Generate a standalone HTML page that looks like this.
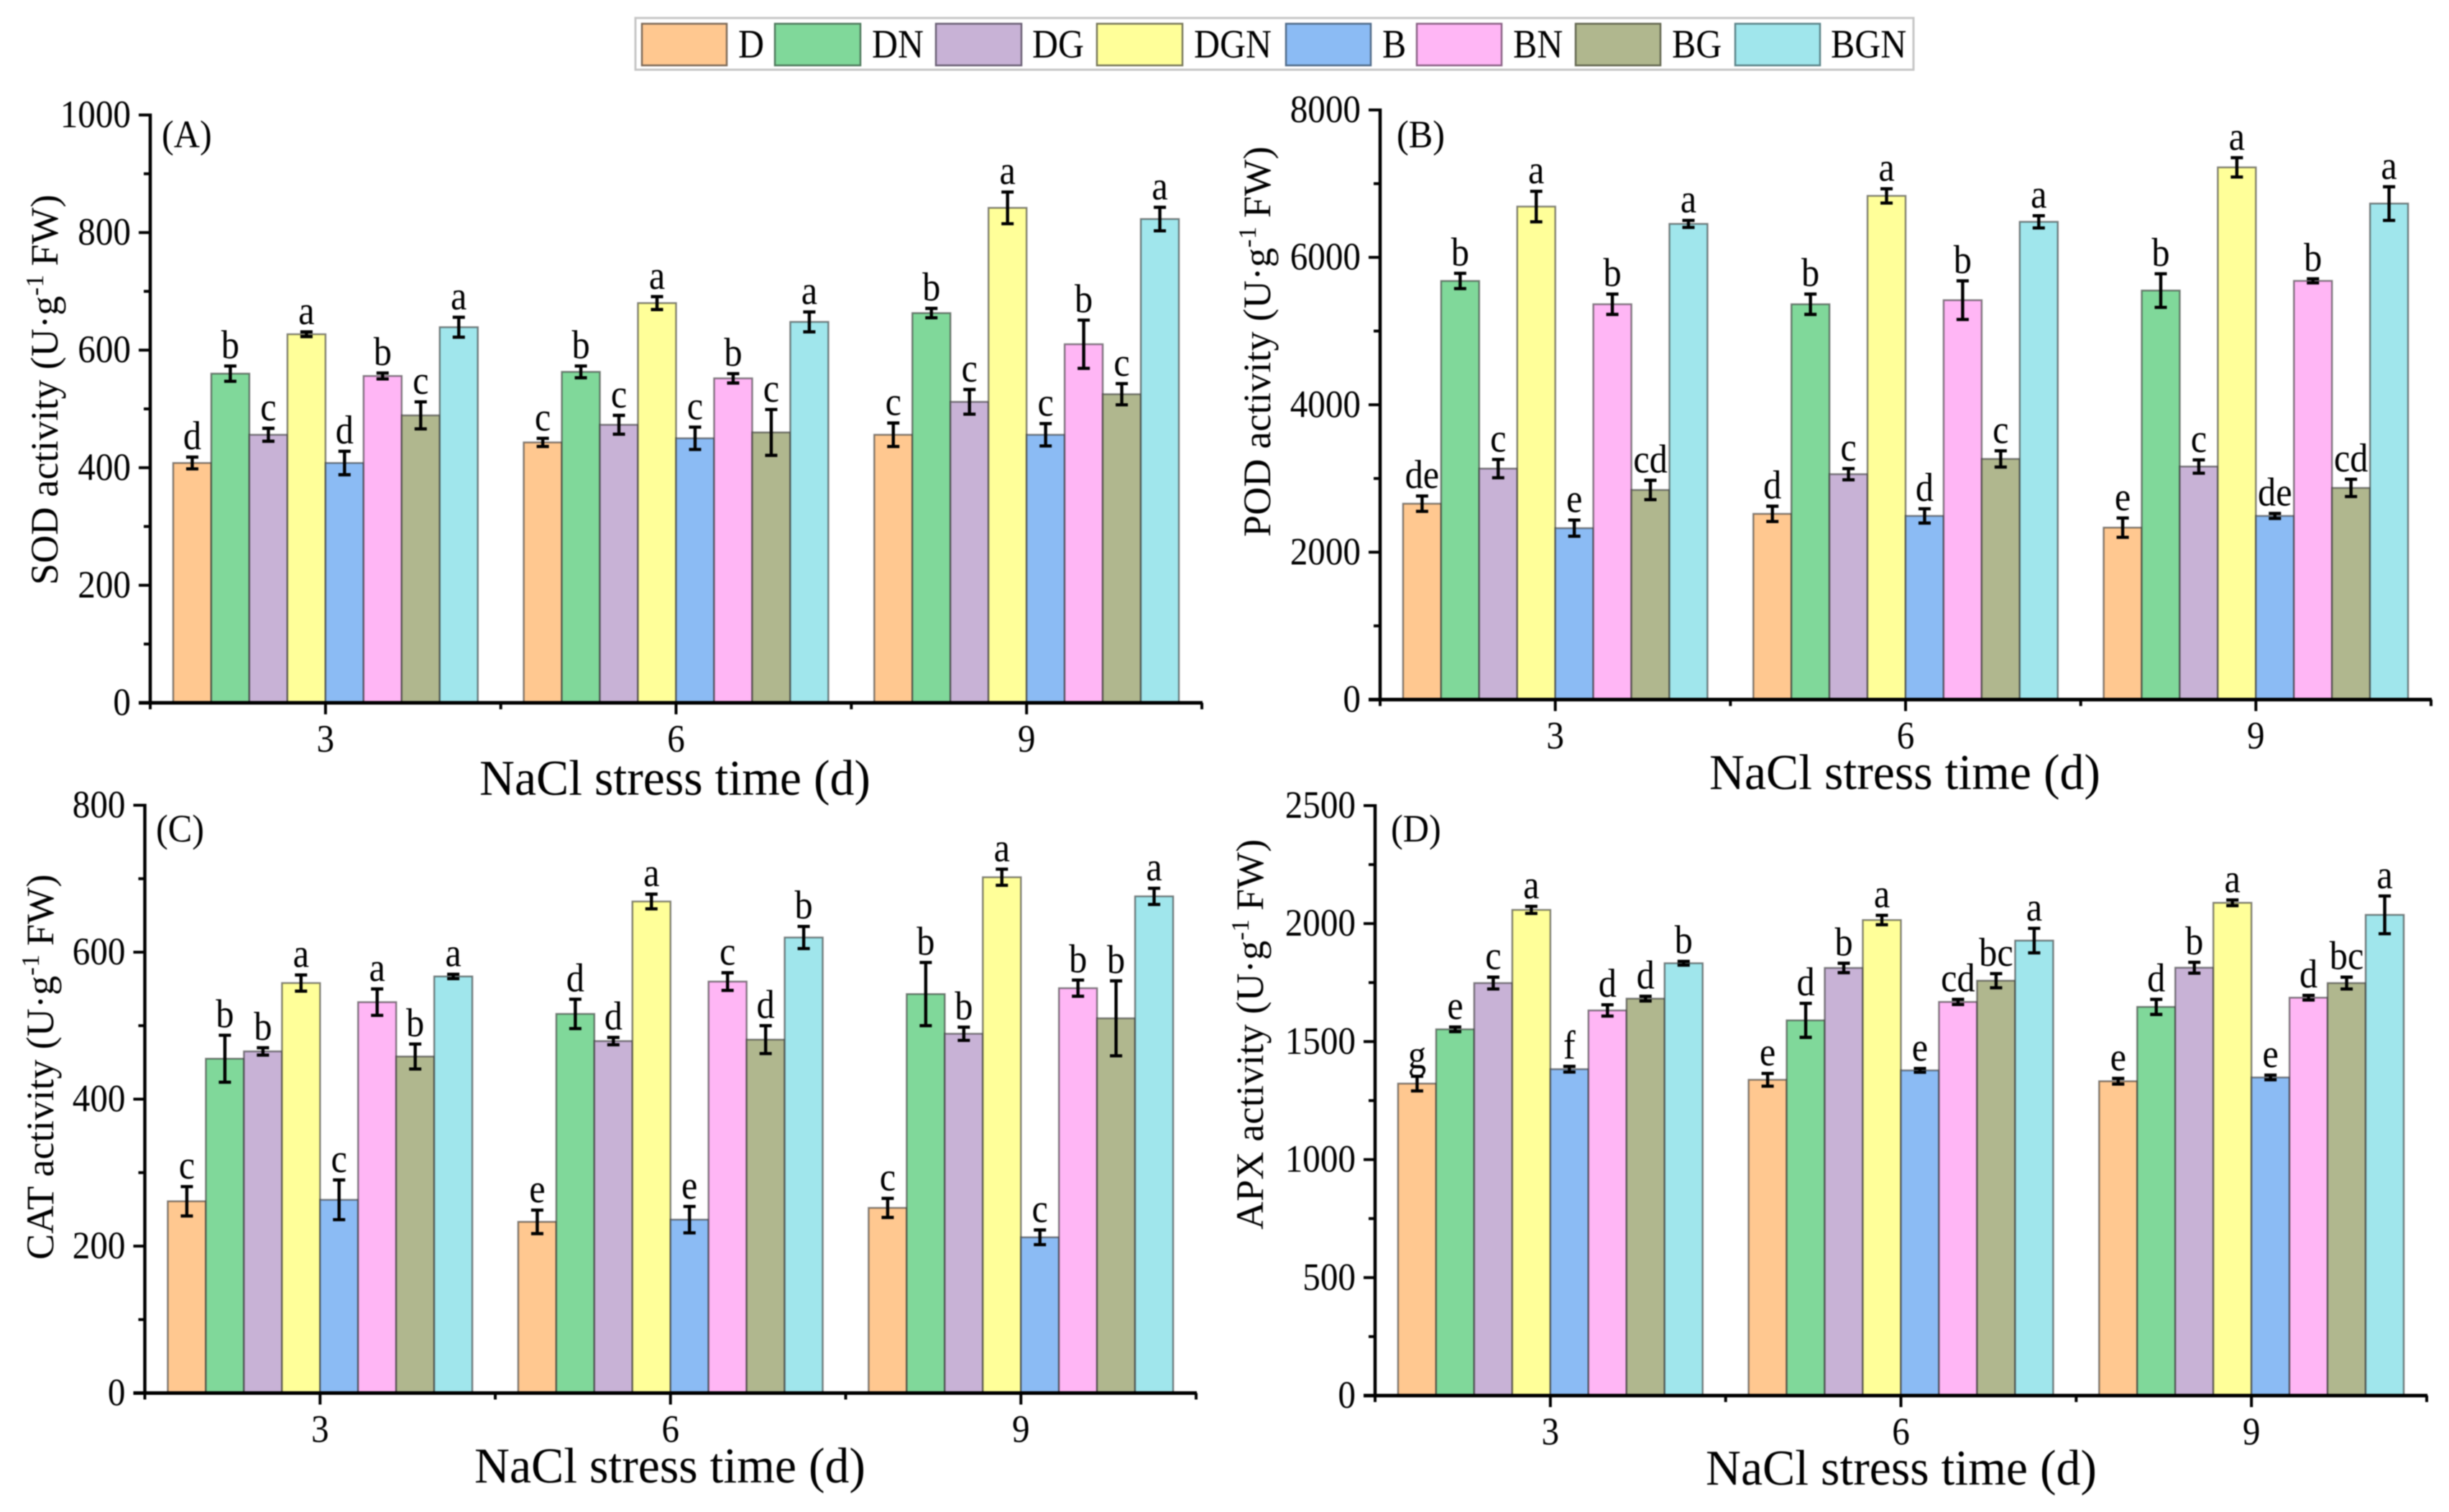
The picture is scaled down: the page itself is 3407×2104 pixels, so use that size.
<!DOCTYPE html>
<html lang="en">
<head>
<meta charset="utf-8">
<title>Antioxidant enzyme activity under NaCl stress</title>
<style>
html,body{margin:0;padding:0;background:#fff;width:3407px;height:2104px;overflow:hidden}
svg{display:block;filter:blur(.9px)}
text{font-family:"Liberation Serif",serif;fill:#000}
</style>
</head>
<body>
<svg id="figure" xmlns="http://www.w3.org/2000/svg" width="3407" height="2104" viewBox="0 0 3407 2104">
<g>
<rect x="884" y="25" width="1778" height="72" fill="#fff" stroke="#c6c6c6" stroke-width="3"/>
<g><rect x="893" y="33" width="118" height="58" fill="#FFC890" stroke="#7d6a58" stroke-width="2.5"/><text class="legend-text" x="1027" y="80" font-size="56">D</text></g>
<g><rect x="1078" y="33" width="119" height="58" fill="#80D89A" stroke="#4f7a5d" stroke-width="2.5"/><text class="legend-text" x="1213" y="80" font-size="56">DN</text></g>
<g><rect x="1302" y="33" width="119" height="58" fill="#C8B2D6" stroke="#6b6075" stroke-width="2.5"/><text class="legend-text" x="1436" y="80" font-size="56">DG</text></g>
<g><rect x="1526" y="33" width="119" height="58" fill="#FFFF99" stroke="#77775a" stroke-width="2.5"/><text class="legend-text" x="1661" y="80" font-size="56">DGN</text></g>
<g><rect x="1789" y="33" width="118" height="58" fill="#8BBBF4" stroke="#4f6a88" stroke-width="2.5"/><text class="legend-text" x="1923" y="80" font-size="56">B</text></g>
<g><rect x="1971" y="33" width="118" height="58" fill="#FFB6F5" stroke="#8a6285" stroke-width="2.5"/><text class="legend-text" x="2105" y="80" font-size="56">BN</text></g>
<g><rect x="2192" y="33" width="118" height="58" fill="#B0B78E" stroke="#636750" stroke-width="2.5"/><text class="legend-text" x="2326" y="80" font-size="56">BG</text></g>
<g><rect x="2414" y="33" width="118" height="58" fill="#A0E6EC" stroke="#5a8388" stroke-width="2.5"/><text class="legend-text" x="2547" y="80" font-size="56">BGN</text></g>
</g>
</svg>
<script>
// ---- Shared chart data ----
const categories = ["3", "6", "9"];
const seriesNames = ["D", "DN", "DG", "DGN", "B", "BN", "BG", "BGN"];
const seriesColors = ["#FFC890", "#80D89A", "#C8B2D6", "#FFFF99", "#8BBBF4", "#FFB6F5", "#B0B78E", "#A0E6EC"];

// ---- Panel A: SOD (each row is a stress time, each column a treatment) ----
const sodTicks = [0, 200, 400, 600, 800, 1000];
const sodMeans = [
  [408, 560, 456, 627, 408, 556, 489, 639],
  [443, 563, 473, 680, 450, 552, 460, 648],
  [456, 663, 512, 842, 456, 610, 525, 823]
];
const sodErrors = [
  [10, 13, 11, 4, 20, 5, 23, 17],
  [7, 10, 16, 11, 19, 8, 39, 17],
  [20, 8, 21, 27, 19, 41, 18, 20]
];
const sodLetters = [
  ["d", "b", "c", "a", "d", "b", "c", "a"],
  ["c", "b", "c", "a", "c", "b", "c", "a"],
  ["c", "b", "c", "a", "c", "b", "c", "a"]
];

// ---- Panel B: POD ----
const podTicks = [0, 2000, 4000, 6000, 8000];
const podMeans = [
  [2658, 5680, 3134, 6689, 2326, 5364, 2844, 6454],
  [2520, 5364, 3058, 6834, 2492, 5419, 3265, 6482],
  [2333, 5550, 3162, 7221, 2492, 5681, 2872, 6730]
];
const podErrors = [
  [104, 104, 124, 207, 110, 138, 131, 48],
  [104, 138, 76, 97, 97, 262, 110, 83],
  [131, 228, 90, 131, 34, 28, 117, 228]
];
const podLetters = [
  ["de", "b", "c", "a", "e", "b", "cd", "a"],
  ["d", "b", "c", "a", "d", "b", "c", "a"],
  ["e", "b", "c", "a", "de", "b", "cd", "a"]
];

// ---- Panel C: CAT ----
const catTicks = [0, 200, 400, 600, 800];
const catMeans = [
  [261, 455, 465, 558, 263, 532, 458, 567],
  [233, 516, 479, 669, 236, 560, 481, 620],
  [252, 543, 489, 702, 212, 551, 510, 676]
];
const catErrors = [
  [20, 32, 5, 11, 27, 18, 17, 3],
  [16, 20, 5, 10, 18, 12, 19, 15],
  [13, 43, 9, 11, 10, 11, 51, 11]
];
const catLetters = [
  ["c", "b", "b", "a", "c", "a", "b", "a"],
  ["e", "d", "d", "a", "e", "c", "d", "b"],
  ["c", "b", "b", "a", "c", "b", "b", "a"]
];

// ---- Panel D: APX ----
const apxTicks = [0, 500, 1000, 1500, 2000, 2500];
const apxMeans = [
  [1322, 1552, 1748, 2058, 1383, 1632, 1682, 1832],
  [1338, 1590, 1812, 2015, 1378, 1668, 1758, 1928],
  [1332, 1647, 1813, 2088, 1348, 1686, 1748, 2037]
];
const apxErrors = [
  [31, 10, 25, 15, 12, 24, 10, 8],
  [27, 72, 20, 20, 8, 11, 30, 52],
  [12, 32, 23, 12, 10, 10, 25, 80]
];
const apxLetters = [
  ["g", "e", "c", "a", "f", "d", "d", "b"],
  ["e", "d", "b", "a", "e", "cd", "bc", "a"],
  ["e", "d", "b", "a", "e", "d", "bc", "a"]
];

const NS = "http://www.w3.org/2000/svg";
const figure = document.getElementById("figure");

function make(parent, tag, attrs, text) {
  const el = document.createElementNS(NS, tag);
  for (const k in attrs) el.setAttribute(k, attrs[k]);
  if (text !== undefined) el.textContent = text;
  parent.appendChild(el);
  return el;
}

// The source figure's type is slightly condensed horizontally.
function condense(el, factor) {
  el.setAttribute("textLength", el.getComputedTextLength() * factor);
  el.setAttribute("lengthAdjust", "spacingAndGlyphs");
}

document.querySelectorAll(".legend-text").forEach(t => condense(t, 0.89));

function drawPanel(cfg) {
  const group = make(figure, "g", {});
  
  

  const ticks = cfg.ticks;
  const yMax = ticks[ticks.length - 1];
  const yScale = v => cfg.zeroY - (v / yMax) * (cfg.zeroY - cfg.topY);
  const spacing = (cfg.rightX - cfg.axisX) / categories.length;
  const xScale = i => cfg.axisX + (i + 0.5) * spacing;
  const barW = spacing * 0.869 / seriesNames.length;

  // bars, error bars and significance letters
  categories.forEach((cat, c) => {
    seriesNames.forEach((name, s) => {
      const v = cfg.means[c][s];
      const e = cfg.errors[c][s];
      const left = xScale(c) + (s - seriesNames.length / 2) * barW;
      const cx = left + barW / 2;
      const bar = make(group, "rect", {
        x: left, y: yScale(v), width: barW, height: cfg.zeroY - yScale(v),
        fill: seriesColors[s], stroke: "rgba(50,50,50,.6)", "stroke-width": 2.5
      });
      
      

      const err = make(group, "path", {
        d: "M" + cx + " " + yScale(v + e) + "V" + yScale(v - e) +
           "M" + (cx - 8.5) + " " + yScale(v + e) + "H" + (cx + 8.5) +
           "M" + (cx - 8.5) + " " + yScale(v - e) + "H" + (cx + 8.5),
        fill: "none", stroke: "#000", "stroke-width": 4.4
      });
      
      

      const letter = make(group, "text", {
        x: cx, y: yScale(v + e) - 11, "font-size": 56, "text-anchor": "middle"
      }, cfg.letters[c][s]);
      condense(letter, 0.9);
      
      
    });
  });

  // y axis
  const yAxis = make(group, "line", {
    x1: cfg.axisX, x2: cfg.axisX, y1: cfg.topY - 2, y2: cfg.zeroY + 2, stroke: "#000", "stroke-width": 4.5
  });
  
  
  ticks.forEach((t, i) => {
    const y = yScale(t);
    const tick = make(group, "line", {
      x1: cfg.axisX - 16, x2: cfg.axisX, y1: y, y2: y, stroke: "#000", "stroke-width": 4
    });
    
    
    const label = make(group, "text", {
      x: cfg.axisX - 27, y: y + 17, "font-size": 54, "text-anchor": "end"
    }, String(t));
    condense(label, 0.91);
    
    
    if (i < ticks.length - 1) {
      const my = yScale((t + ticks[i + 1]) / 2);
      const minor = make(group, "line", {
        x1: cfg.axisX - 9, x2: cfg.axisX, y1: my, y2: my, stroke: "#000", "stroke-width": 4
      });
      
      
    }
  });

  // x axis
  const xAxis = make(group, "line", {
    x1: cfg.axisX - 16, x2: cfg.rightX + 1, y1: cfg.zeroY, y2: cfg.zeroY, stroke: "#000", "stroke-width": 5
  });
  
  
  categories.forEach((cat, c) => {
    const x = xScale(c);
    const tick = make(group, "line", {
      x1: x, x2: x, y1: cfg.zeroY, y2: cfg.zeroY + 16, stroke: "#000", "stroke-width": 4
    });
    
    
    const label = make(group, "text", {
      x: x, y: cfg.zeroY + 68, "font-size": 54, "text-anchor": "middle"
    }, cat);
    condense(label, 0.91);
    
    
  });
  for (let k = 0; k <= categories.length; k++) {
    const x = cfg.axisX + k * spacing;
    const minor = make(group, "line", {
      x1: x, x2: x, y1: cfg.zeroY, y2: cfg.zeroY + 9, stroke: "#000", "stroke-width": 4
    });
    
    
  }

  // titles
  const xTitle = make(group, "text", {
    x: cfg.xTitleX, y: cfg.xTitleY, "font-size": 70, textLength: 544, lengthAdjust: "spacingAndGlyphs"
  }, "NaCl stress time (d)");
  
  

  const yTitle = make(group, "text", {
    x: cfg.yTitleX, y: cfg.yTitleY, "font-size": 54,
    "letter-spacing": cfg.yTitleSpacing,
    transform: "rotate(-90 " + cfg.yTitleX + " " + cfg.yTitleY + ")"
  });
  
  
  make(yTitle, "tspan", {}, cfg.title + " activity (U\u00B7g");
  make(yTitle, "tspan", { dy: -20, "font-size": 35 }, "-1");
  make(yTitle, "tspan", { dy: 20, dx: 12 }, "FW)");

  const tag = make(group, "text", {
    x: cfg.tagX, y: cfg.tagY, "font-size": 54
  }, cfg.tag);
  condense(tag, 0.93);
  
  
}

drawPanel({
  key: "sod", title: "SOD", tag: "(A)", ticks: sodTicks, means: sodMeans, errors: sodErrors, letters: sodLetters,
  axisX: 209, rightX: 1672, topY: 160, zeroY: 978,
  xTitleX: 667, xTitleY: 1106, yTitleX: 80, yTitleY: 814, yTitleSpacing: 0.2, tagX: 225, tagY: 205
});
drawPanel({
  key: "pod", title: "POD", tag: "(B)", ticks: podTicks, means: podMeans, errors: podErrors, letters: podLetters,
  axisX: 1920, rightX: 3382, topY: 153, zeroY: 973.5,
  xTitleX: 2378, xTitleY: 1098, yTitleX: 1767, yTitleY: 747, yTitleSpacing: 0.2, tagX: 1943, tagY: 205
});
drawPanel({
  key: "cat", title: "CAT", tag: "(C)", ticks: catTicks, means: catMeans, errors: catErrors, letters: catLetters,
  axisX: 201.5, rightX: 1664, topY: 1120.5, zeroY: 1938.5,
  xTitleX: 660, xTitleY: 2063, yTitleX: 74, yTitleY: 1753, yTitleSpacing: 0.2, tagX: 217, tagY: 1171
});
drawPanel({
  key: "apx", title: "APX", tag: "(D)", ticks: apxTicks, means: apxMeans, errors: apxErrors, letters: apxLetters,
  axisX: 1913, rightX: 3376, topY: 1121, zeroY: 1942,
  xTitleX: 2373, xTitleY: 2066, yTitleX: 1757, yTitleY: 1711, yTitleSpacing: 0.2, tagX: 1935, tagY: 1171
});
</script>
</body>
</html>
